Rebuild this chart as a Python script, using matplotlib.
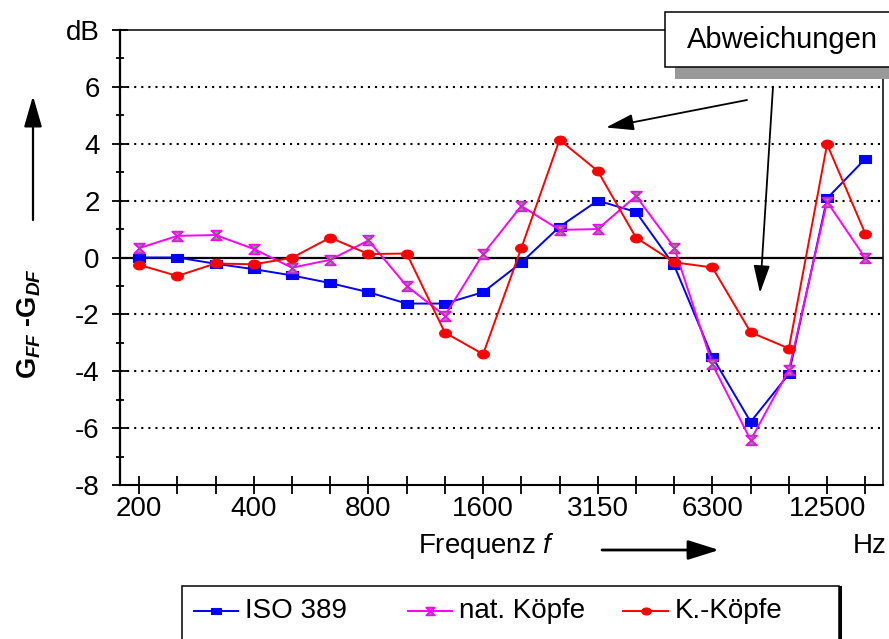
import matplotlib
matplotlib.use('Agg')
import matplotlib.pyplot as plt
from matplotlib.path import Path
from matplotlib.patches import Rectangle
from matplotlib.lines import Line2D
import numpy as np

# ---------------- data ----------------
freqs = ['200', '250', '315', '400', '500', '630', '800', '1000', '1250', '1600',
         '2000', '2500', '3150', '4000', '5000', '6300', '8000', '10000', '12500', '16000']
shown_labels = ['200', '400', '800', '1600', '3150', '6300', '12500']
iso389 = [0.0, 0.0, -0.22, -0.41, -0.63, -0.9, -1.22, -1.62, -1.62, -1.22,
          -0.18, 1.08, 2.0, 1.6, -0.28, -3.5, -5.78, -4.1, 2.08, 3.47]
nat_koepfe = [0.33, 0.76, 0.79, 0.3, -0.36, -0.08, 0.6, -1.0, -2.05, 0.12,
              1.81, 0.97, 1.0, 2.16, 0.35, -3.76, -6.42, -3.96, 1.96, -0.02]
k_koepfe = [-0.26, -0.65, -0.21, -0.24, -0.01, 0.7, 0.12, 0.14, -2.64, -3.4,
            0.33, 4.14, 3.04, 0.7, -0.17, -0.35, -2.63, -3.2, 3.98, 0.84]
series_names = ['ISO 389', 'nat. Köpfe', 'K.-Köpfe']
y_tick_values = [-8, -6, -4, -2, 0, 2, 4, 6, 8]
y_tick_labels = ['-8', '-6', '-4', '-2', '0', '2', '4', '6', 'dB']
grid_levels = [-6, -4, -2, 2, 4, 6]

# ---------------- style ----------------
plt.rcParams['font.family'] = ['Liberation Sans', 'DejaVu Sans']
plt.rcParams['mathtext.fontset'] = 'custom'
plt.rcParams['mathtext.rm'] = 'Liberation Sans'
plt.rcParams['mathtext.it'] = 'Liberation Sans:italic'
plt.rcParams['mathtext.bf'] = 'Liberation Sans:bold:italic'

W, H = 889, 639
fig = plt.figure(figsize=(W / 100, H / 100), dpi=100)
ax = fig.add_axes([120 / W, 1 - 485 / H, (882.5 - 120) / W, (485 - 30) / H])

# marker shapes
sq = Path([(-1, -0.72), (1, -0.72), (1, 0.72), (-1, 0.72), (-1, -0.72)],
          [Path.MOVETO, Path.LINETO, Path.LINETO, Path.LINETO, Path.CLOSEPOLY])
t = np.linspace(0, 2 * np.pi, 40)
ell = Path(np.column_stack([np.cos(t), 0.74 * np.sin(t)]))
hg = Path([(-1, 0.92), (1, 0.92), (-1, -0.92), (1, -0.92), (-1, 0.92)],
          [Path.MOVETO, Path.LINETO, Path.LINETO, Path.LINETO, Path.CLOSEPOLY])

blue, mag, red, green = '#0000ff', '#ff00ff', '#ff0000', '#22dd22'
styles = [
    dict(color=blue, marker=sq, ms=8.5, mfc=blue, mec=blue, mew=0.8),
    dict(color=mag, marker=hg, ms=7.5, mfc=green, mec=mag, mew=1.3),
    dict(color=red, marker=ell, ms=8.5, mfc=red, mec=red, mew=0.8),
]

x = np.arange(len(freqs))
for i, (vals, st) in enumerate(zip([iso389, nat_koepfe, k_koepfe], styles)):
    ax.plot(x, vals, lw=1.4, zorder=3 + i, clip_on=False, **st)

# reference lines
ax.axhline(0, color='black', lw=1.6, zorder=2)
for v in grid_levels:
    ax.axhline(v, color='black', lw=1.5, ls=(0, (1, 2.4)), zorder=1)

ax.set_xlim(-0.5, 19.45)
ax.set_ylim(-8, 8)

ax.set_yticks(y_tick_values)
ax.set_yticklabels(y_tick_labels)
ax.set_yticks(np.arange(-7, 8, 2), minor=True)
ax.set_xticks(x)
ax.set_xticklabels([f if f in shown_labels else '' for f in freqs])

ax.tick_params(axis='y', which='major', direction='inout', length=11, width=1.3,
               pad=9, labelsize=20)
ax.tick_params(axis='y', which='minor', direction='inout', length=6, width=1.3)
ax.tick_params(axis='x', which='major', direction='inout', length=12.5, width=1.3,
               pad=2, labelsize=20)

ax.spines['left'].set_linewidth(1.6)
ax.spines['bottom'].set_linewidth(1.5)
ax.spines['top'].set_linewidth(1.1)
ax.spines['right'].set_linewidth(1.1)

# ---------------- axis texts ----------------
fig.text(418 / W, 1 - 553 / H, 'Frequenz $f$', fontsize=20, ha='left', va='baseline')
fig.text(887 / W, 1 - 553 / H, 'Hz', fontsize=20, ha='right', va='baseline')
fig.text(29 / W, 1 - 324 / H, r'G$_{\mathbf{FF}}$ -G$_{\mathbf{DF}}$', fontsize=19.5,
         fontweight='bold', rotation=90, ha='center', va='center')

arrow_kw = dict(arrowstyle='-|>,head_length=19,head_width=6', mutation_scale=1,
                color='black', lw=2, shrinkA=0, shrinkB=0)
fig.add_artist(matplotlib.patches.FancyArrowPatch(
    (602, H - 550), (719, H - 550), transform=None, **arrow_kw))
fig.add_artist(matplotlib.patches.FancyArrowPatch(
    (33, H - 220), (33, H - 96), transform=None,
    **dict(arrow_kw, arrowstyle='-|>,head_length=19,head_width=5.5', lw=1.6)))

# ---------------- Abweichungen box ----------------
fig.add_artist(Rectangle((675 / W, 1 - 79 / H), 240 / W, 12 / H,
                         transform=fig.transFigure, facecolor='#999999',
                         edgecolor='none', zorder=5))
fig.add_artist(Rectangle((665 / W, 1 - 66.7 / H), 240 / W, 55 / H,
                         transform=fig.transFigure, facecolor='white',
                         edgecolor='black', lw=1.1, zorder=6))
fig.text(687 / W, 1 - 48.3 / H, 'Abweichungen', fontsize=21, ha='left',
         va='baseline', zorder=7)
thin_kw = dict(arrowstyle='-|>,head_length=17,head_width=5', mutation_scale=1,
               color='black', lw=1.3, shrinkA=0, shrinkB=0)
fig.add_artist(matplotlib.patches.FancyArrowPatch(
    (747, H - 100), (606, H - 127.5), transform=None, **thin_kw))
fig.add_artist(matplotlib.patches.FancyArrowPatch(
    (773, H - 86.7), (760, H - 293), transform=None, **thin_kw))

# ---------------- legend ----------------
fig.add_artist(Rectangle((182 / W, -0.05), (839 - 182) / W, (639 - 586) / H + 0.05,
                         transform=fig.transFigure, facecolor='white',
                         edgecolor='black', lw=1.1, zorder=5))
fig.add_artist(Line2D([840 / W, 840 / W], [-0.05, 1 - 587 / H], transform=fig.transFigure,
                      color='black', lw=2.2, zorder=6))
leg_y = 1 - 611 / H
entries = [(194, 238, 245), (408, 452, 459), (623, 668, 675)]
for (x0, x1, xt), st, name in zip(entries, styles, series_names):
    fig.add_artist(Line2D([x0 / W, x1 / W], [leg_y, leg_y], transform=fig.transFigure,
                          color=st['color'], lw=1.4, zorder=7))
    small = dict(st)
    small['ms'] = st['ms'] * 0.8
    small.pop('color')
    fig.add_artist(Line2D([(x0 + x1) / 2 / W], [leg_y], transform=fig.transFigure,
                          lw=0, zorder=8, **small))
    fig.text(xt / W, leg_y, name, fontsize=20, ha='left', va='center', zorder=8)

fig.savefig('out.png', dpi=100)
